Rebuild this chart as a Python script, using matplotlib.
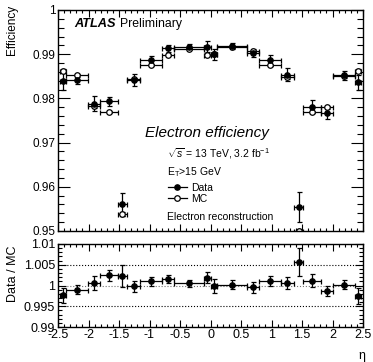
import numpy as np
import matplotlib
matplotlib.use("Agg")
import matplotlib.pyplot as plt
from matplotlib.lines import Line2D
from matplotlib.ticker import MultipleLocator, FuncFormatter

plt.rcParams['font.family'] = ['Liberation Sans', 'DejaVu Sans']
plt.rcParams['mathtext.fontset'] = 'custom'
plt.rcParams['mathtext.rm'] = 'Liberation Sans'
plt.rcParams['mathtext.it'] = 'Liberation Sans:italic'

# eta binning
eta_edges = [-2.47, -2.37, -2.01, -1.81, -1.52, -1.37, -1.15, -0.8, -0.6, -0.1, 0.0,
             0.1, 0.6, 0.8, 1.15, 1.37, 1.52, 1.81, 2.01, 2.37, 2.47]

# reconstruction efficiencies
data_eff = [0.9839, 0.9842, 0.9788, 0.9793, 0.9561, 0.9842, 0.9886, 0.9913, 0.9917, 0.9917,
            0.9900, 0.9918, 0.9903, 0.9886, 0.9854, 0.9554, 0.9781, 0.9767, 0.9852, 0.9837]
data_err = [0.0019, 0.0010, 0.0017, 0.0010, 0.0026, 0.0014, 0.0009, 0.0008, 0.0006, 0.0012,
            0.0012, 0.0007, 0.0009, 0.0012, 0.0015, 0.0034, 0.0015, 0.0014, 0.0010, 0.0017]
mc_eff = [0.9863, 0.9852, 0.9782, 0.9769, 0.9539, 0.9844, 0.9876, 0.9898, 0.9912, 0.9898,
          0.9901, 0.9916, 0.9907, 0.9876, 0.9848, 0.9501, 0.9769, 0.9780, 0.9850, 0.9863]
mc_err = [0.0004, 0.0003, 0.0003, 0.0003, 0.0004, 0.0003, 0.0002, 0.0002, 0.0002, 0.0003,
          0.0003, 0.0002, 0.0002, 0.0002, 0.0003, 0.0004, 0.0003, 0.0003, 0.0003, 0.0004]

# data / MC scale factors
sf = [0.9976, 0.9990, 1.0006, 1.0025, 1.0023, 0.9998, 1.0010, 1.0015, 1.0005, 1.0019,
      0.9999, 1.0002, 0.9996, 1.0010, 1.0006, 1.0056, 1.0012, 0.9987, 1.0002, 0.9974]
sf_err = [0.0018, 0.0011, 0.0018, 0.0013, 0.0026, 0.0014, 0.0011, 0.0010, 0.0008, 0.0013,
          0.0016, 0.0011, 0.0013, 0.0012, 0.0014, 0.0034, 0.0015, 0.0012, 0.0011, 0.0019]

edges = np.array(eta_edges)
eta = 0.5 * (edges[1:] + edges[:-1])
eta_hw = 0.5 * (edges[1:] - edges[:-1])

W, H = 373, 362
fig = plt.figure(figsize=(W / 100, H / 100), dpi=100)
ax = fig.add_axes([58 / W, 1 - 231 / H, 305 / W, 221 / H])
rax = fig.add_axes([58 / W, 1 - 327 / H, 305 / W, 83 / H])

fmt = FuncFormatter(lambda v, _: f"{v:g}")


def style_axis(a, ylo, yhi, ymaj, ymin, lab_size, ylen):
    a.set_xlim(-2.5, 2.5)
    a.set_ylim(ylo, yhi)
    a.xaxis.set_major_locator(MultipleLocator(0.5))
    a.xaxis.set_minor_locator(MultipleLocator(0.1))
    a.yaxis.set_major_locator(MultipleLocator(ymaj))
    a.yaxis.set_minor_locator(MultipleLocator(ymin))
    a.xaxis.set_major_formatter(fmt)
    a.yaxis.set_major_formatter(fmt)
    a.tick_params(which='both', direction='in', top=True, right=True, width=0.8,
                  labelsize=lab_size)
    a.tick_params(axis='y', which='major', length=ylen, pad=2)
    a.tick_params(axis='y', which='minor', length=ylen / 2)
    a.tick_params(axis='x', which='major', length=5, pad=1.5)
    a.tick_params(axis='x', which='minor', length=2.5)
    for s in a.spines.values():
        s.set_linewidth(1.0)


style_axis(ax, 0.95, 1.0, 0.01, 0.002, 8.5, 8.5)
ax.tick_params(axis='x', labelbottom=False)
style_axis(rax, 0.99, 1.01, 0.005, 0.001, 9, 6)

eb = dict(capsize=1.8, capthick=0.9, elinewidth=0.9, color='k', ls='none')
ax.errorbar(eta, mc_eff, xerr=eta_hw, yerr=mc_err, fmt='o', ms=4, mfc='white',
            mec='k', mew=0.9, **eb)
ax.errorbar(eta, data_eff, xerr=eta_hw, yerr=data_err, fmt='o', ms=3.8, **eb)

for yv, c in [(1.005, 'k'), (1.0, '0.45'), (0.995, 'k')]:
    rax.axhline(yv, ls=':', lw=0.8, color=c, zorder=0)
rax.errorbar(eta, sf, xerr=eta_hw, yerr=sf_err, fmt='o', ms=3.8, **eb)

# labels and annotations
def px(x, y):
    return x / W, 1 - y / H


fig.text(*px(12, 5), 'Efficiency', rotation=90, ha='center', va='top', fontsize=8.5)
fig.text(*px(13, 246), 'Data / MC', rotation=90, ha='center', va='top', fontsize=9)
fig.text(*px(362, 356), 'η', ha='center', va='center', fontsize=9)

fig.text(*px(74, 24), 'ATLAS', fontsize=9.2, fontweight='bold', fontstyle='italic',
         va='center')
fig.text(*px(120, 24), 'Preliminary', fontsize=8.8, va='center')
fig.text(*px(145, 133), 'Electron efficiency', fontsize=11, fontstyle='italic', va='center')
fig.text(*px(167, 154), r'$\sqrt{s}$ = 13 TeV, 3.2 fb$^{-1}$', fontsize=7.5, va='center')
fig.text(*px(167, 172), r'E$_{\mathregular{T}}$>15 GeV', fontsize=7.5, va='center')
fig.text(*px(167, 217), 'Electron reconstruction', fontsize=7.5, va='center')

handles = [Line2D([], [], color='k', lw=0.9, marker='o', ms=3.8),
           Line2D([], [], color='k', lw=0.9, marker='o', ms=4, mfc='white', mew=0.9)]
fig.legend(handles, ['Data', 'MC'], loc='upper left', bbox_to_anchor=px(168, 183),
           frameon=False, fontsize=7.5, handlelength=1.8, handletextpad=0.4,
           labelspacing=0.1, borderpad=0, borderaxespad=0)

fig.savefig('out.png', dpi=100)
